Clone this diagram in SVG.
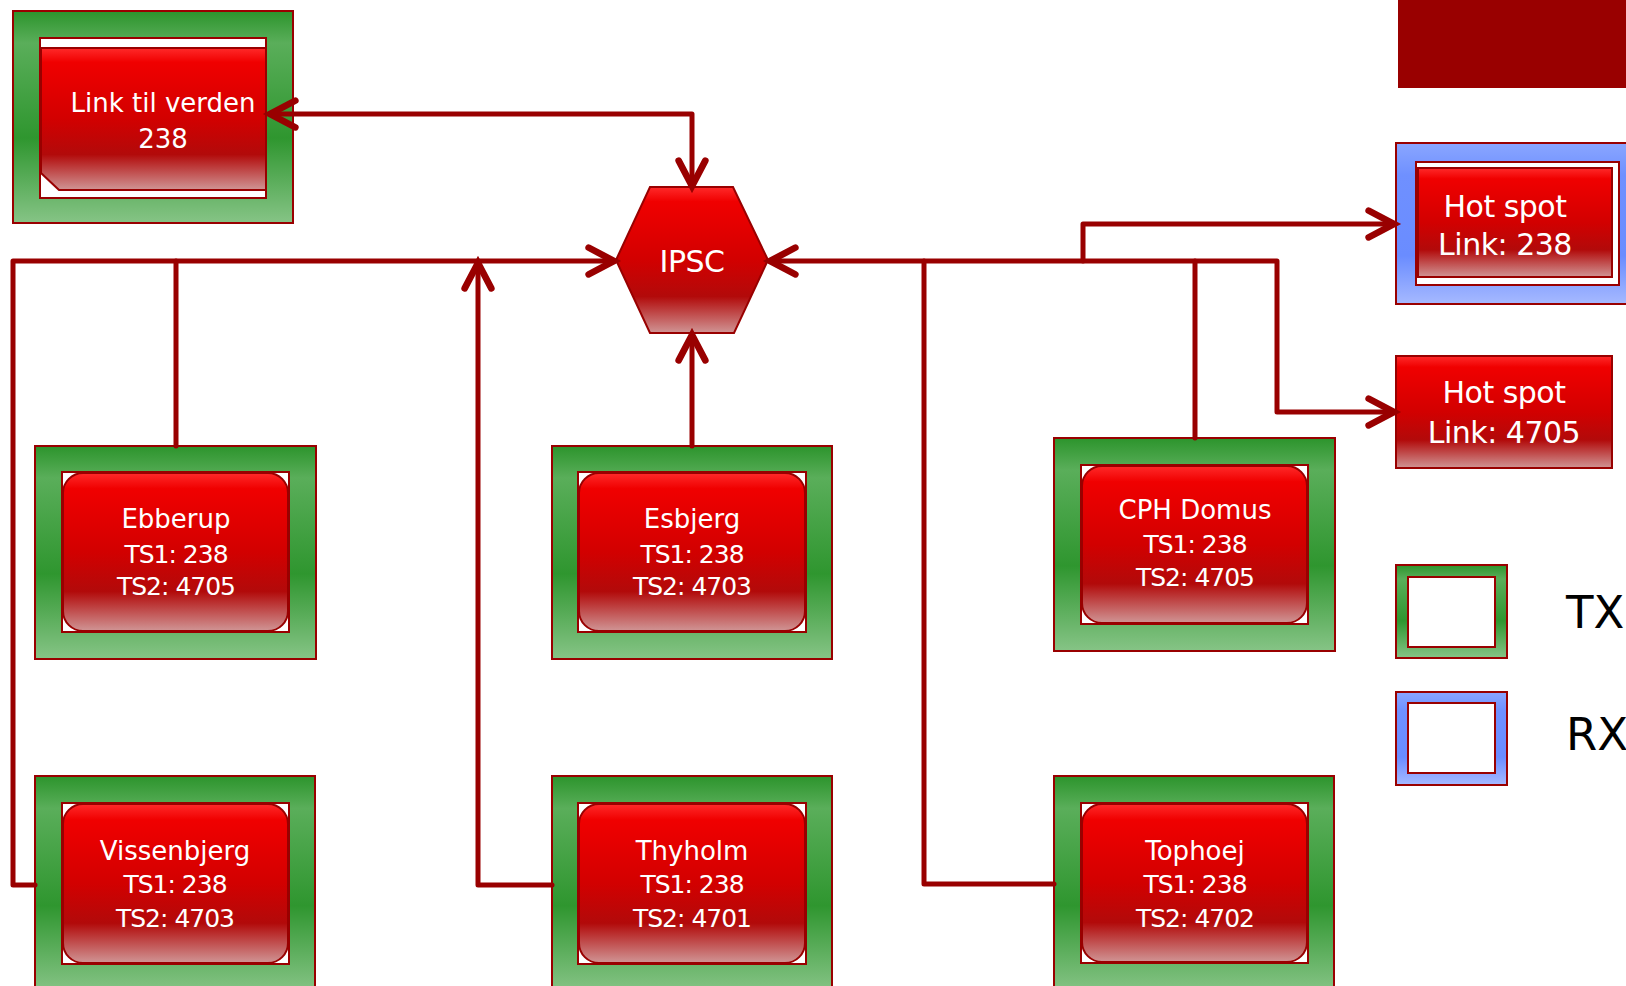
<svg xmlns="http://www.w3.org/2000/svg" width="1626" height="986" viewBox="0 0 1626 986">
<style>
.frame{stroke:#990000;stroke-width:2}
.green{fill:url(#green)}
.blue{fill:url(#blue)}
.white{fill:#ffffff;stroke:#990000;stroke-width:2}
.red{fill:url(#red);stroke:#990000;stroke-width:2}
.t{font-family:"DejaVu Sans","Liberation Sans",sans-serif;fill:#ffffff;text-anchor:middle}
.s{font-size:26px}
.n{font-size:25px;letter-spacing:-1px}
.h{font-size:30px;letter-spacing:-0.5px}
.lg{font-family:"DejaVu Sans","Liberation Sans",sans-serif;fill:#000000;font-size:45px}
.c{fill:none;stroke:#990000;stroke-width:5;stroke-linejoin:round;stroke-linecap:round}
</style>
<defs>
<linearGradient id="red" x1="0" y1="0" x2="0" y2="1">
<stop offset="0" stop-color="#ff2a2a"/>
<stop offset="0.1" stop-color="#f00000"/>
<stop offset="0.5" stop-color="#d20000"/>
<stop offset="0.75" stop-color="#b20a0a"/>
<stop offset="1" stop-color="#d09595"/>
</linearGradient>
<linearGradient id="green" x1="0" y1="0" x2="0" y2="1">
<stop offset="0" stop-color="#2c942c"/>
<stop offset="0.15" stop-color="#5aae5a"/>
<stop offset="0.6" stop-color="#2f962f"/>
<stop offset="1" stop-color="#86c486"/>
</linearGradient>
<linearGradient id="blue" x1="0" y1="0" x2="0" y2="1">
<stop offset="0" stop-color="#8aa6ff"/>
<stop offset="0.2" stop-color="#6f90ff"/>
<stop offset="0.7" stop-color="#6a8cff"/>
<stop offset="1" stop-color="#a6b9ff"/>
</linearGradient>
<marker id="arr" markerUnits="userSpaceOnUse" markerWidth="40" markerHeight="40" refX="0" refY="0" viewBox="-25 -15 30 30" orient="auto-start-reverse" overflow="visible">
<path d="M-19,-10 L0,0 L-19,10" fill="none" stroke="#990000" stroke-width="5" stroke-linecap="round" stroke-linejoin="miter"/>
</marker>
</defs>
<rect width="1626" height="986" fill="#ffffff"/>

<g id="header">
<rect x="1398" y="0" width="228" height="88" fill="#990000"/>
</g>

<g id="link-til-verden">
<rect class="frame green" x="13" y="11" width="280" height="212"/>
<rect class="white" x="40" y="38" width="226" height="160"/>
<polygon class="red" points="41,48 266,48 266,190 59,190 41,173"/>
<text class="t s" x="163" y="112">Link til verden</text>
<text class="t s" x="163" y="148">238</text>
</g>

<g id="ipsc">
<polygon class="red" points="650,187 733,187 768,260 734,333 650,333 616,260"/>
<text class="t h" x="692" y="272">IPSC</text>
</g>

<g id="hotspot-238">
<rect class="frame blue" x="1396" y="143" width="240" height="161"/>
<rect class="white" x="1416" y="162" width="203" height="123"/>
<rect class="red" x="1418" y="168" width="194" height="109"/>
<text class="t h" x="1505" y="217">Hot spot</text>
<text class="t h" x="1505" y="255">Link: 238</text>
</g>

<g id="hotspot-4705">
<rect class="red" x="1396" y="356" width="216" height="112"/>
<text class="t h" x="1504" y="403">Hot spot</text>
<text class="t h" x="1504" y="443">Link: 4705</text>
</g>

<g id="ebberup">
<rect class="frame green" x="35" y="446" width="281" height="213"/>
<rect class="white" x="62" y="472" width="227" height="160"/>
<rect class="red" x="63" y="473" width="225" height="158" rx="20"/>
<text class="t s" x="176" y="528">Ebberup</text>
<text class="t n" x="176" y="563">TS1: 238</text>
<text class="t n" x="176" y="595">TS2: 4705</text>
</g>

<g id="esbjerg">
<rect class="frame green" x="552" y="446" width="280" height="213"/>
<rect class="white" x="578" y="472" width="228" height="160"/>
<rect class="red" x="579" y="473" width="226" height="158" rx="20"/>
<text class="t s" x="692" y="528">Esbjerg</text>
<text class="t n" x="692" y="563">TS1: 238</text>
<text class="t n" x="692" y="595">TS2: 4703</text>
</g>

<g id="cph-domus">
<rect class="frame green" x="1054" y="438" width="281" height="213"/>
<rect class="white" x="1081" y="465" width="227" height="159"/>
<rect class="red" x="1082" y="466" width="225" height="157" rx="20"/>
<text class="t s" x="1195" y="519">CPH Domus</text>
<text class="t n" x="1195" y="553">TS1: 238</text>
<text class="t n" x="1195" y="586">TS2: 4705</text>
</g>

<g id="vissenbjerg">
<rect class="frame green" x="35" y="776" width="280" height="216"/>
<rect class="white" x="62" y="803" width="227" height="161"/>
<rect class="red" x="63" y="804" width="225" height="159" rx="20"/>
<text class="t s" x="175" y="860">Vissenbjerg</text>
<text class="t n" x="175" y="893">TS1: 238</text>
<text class="t n" x="175" y="927">TS2: 4703</text>
</g>

<g id="thyholm">
<rect class="frame green" x="552" y="776" width="280" height="216"/>
<rect class="white" x="578" y="803" width="228" height="161"/>
<rect class="red" x="579" y="804" width="226" height="159" rx="20"/>
<text class="t s" x="692" y="860">Thyholm</text>
<text class="t n" x="692" y="893">TS1: 238</text>
<text class="t n" x="692" y="927">TS2: 4701</text>
</g>

<g id="tophoej">
<rect class="frame green" x="1054" y="776" width="280" height="216"/>
<rect class="white" x="1081" y="803" width="227" height="160"/>
<rect class="red" x="1082" y="804" width="225" height="158" rx="20"/>
<text class="t s" x="1195" y="860">Tophoej</text>
<text class="t n" x="1195" y="893">TS1: 238</text>
<text class="t n" x="1195" y="927">TS2: 4702</text>
</g>

<g id="legend-tx">
<rect class="frame green" x="1396" y="565" width="111" height="93"/>
<rect class="white" x="1408" y="577" width="87" height="70"/>
<text class="lg" x="1566" y="628">TX</text>
</g>

<g id="legend-rx">
<rect class="frame blue" x="1396" y="692" width="111" height="93"/>
<rect class="white" x="1408" y="703" width="87" height="70"/>
<text class="lg" x="1566" y="750">RX</text>
</g>

<g id="connectors">
<path class="c" d="M692,186 V114 H270" marker-start="url(#arr)" marker-end="url(#arr)"/>
<path class="c" d="M35,885 H13 V261 H614" marker-end="url(#arr)"/>
<path class="c" d="M176,446 V261"/>
<path class="c" d="M552,885 H478 V263" marker-end="url(#arr)"/>
<path class="c" d="M692,446 V335" marker-end="url(#arr)"/>
<path class="c" d="M1054,884 H924 V261 H770" marker-end="url(#arr)"/>
<path class="c" d="M924,261 H1277 V412 H1394" marker-end="url(#arr)"/>
<path class="c" d="M1083,261 V224 H1394" marker-end="url(#arr)"/>
<path class="c" d="M1195,438 V261"/>
</g>
</svg>
